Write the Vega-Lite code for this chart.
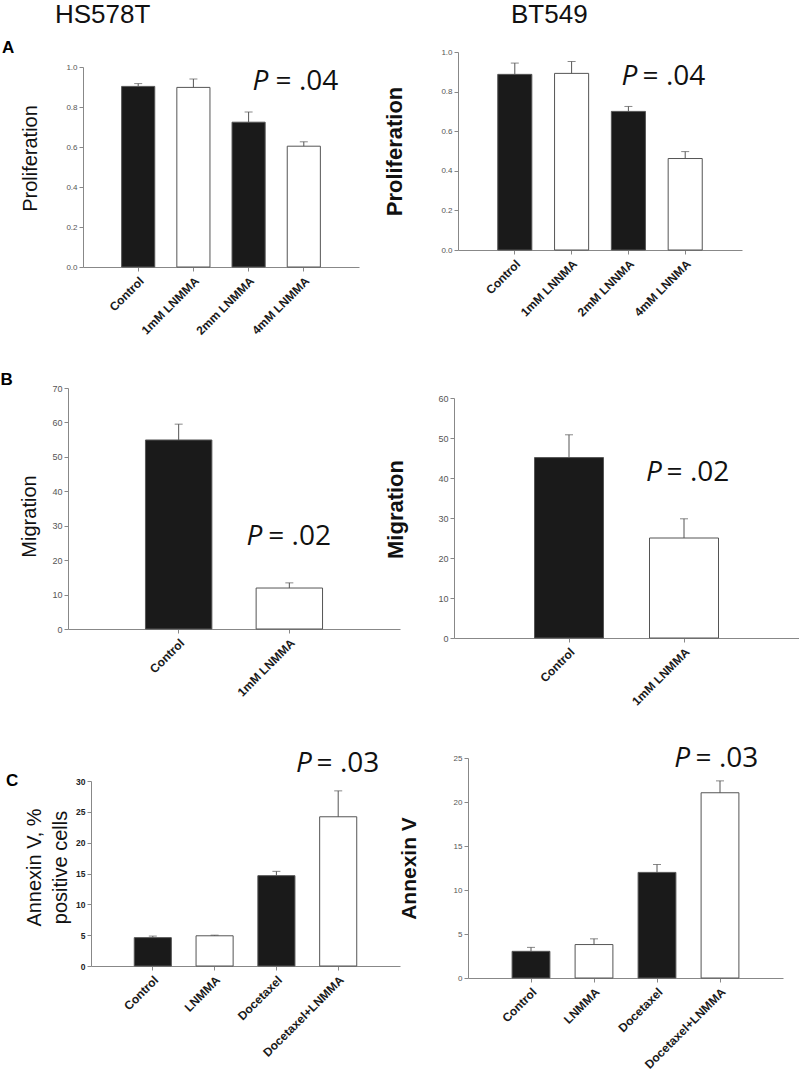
{
  "$schema": "https://vega.github.io/schema/vega-lite/v6.json",
  "width": 799,
  "height": 1081,
  "autosize": {"type": "none"},
  "padding": 0,
  "background": "white",
  "config": {
    "view": {"stroke": null},
    "font": "Liberation Sans",
    "axis": {"grid": false, "domainColor": "#888", "tickColor": "#888", "tickSize": 4, "labelFont": "Liberation Sans", "titleFont": "Liberation Sans", "titleColor": "#111", "domainWidth": 1, "tickWidth": 1},
    "axisX": {"labelAngle": -45, "labelFontWeight": "bold", "labelFontSize": 12, "labelColor": "#1a1a1a", "labelPadding": 4},
    "axisY": {"labelFontSize": 8, "labelColor": "#555", "titleFontSize": 20, "titleFontWeight": "normal", "labelPadding": 2}
  },
  "datasets": {
    "prolifHS": [{"condition": "Control", "mean": 0.903, "upper": 0.917}, {"condition": "1mM LNMMA", "mean": 0.898, "upper": 0.94}, {"condition": "2mm LNMMA", "mean": 0.724, "upper": 0.775}, {"condition": "4mM LNMMA", "mean": 0.604, "upper": 0.626}],
    "prolifBT": [{"condition": "Control", "mean": 0.887, "upper": 0.944}, {"condition": "1mM LNNMA", "mean": 0.892, "upper": 0.952}, {"condition": "2mM LNNMA", "mean": 0.7, "upper": 0.725}, {"condition": "4mM LNNMA", "mean": 0.462, "upper": 0.497}],
    "migHS": [{"condition": "Control", "mean": 54.9, "upper": 59.5}, {"condition": "1mM LNMMA", "mean": 11.9, "upper": 13.4}],
    "migBT": [{"condition": "Control", "mean": 45.1, "upper": 50.8}, {"condition": "1mM LNMMA", "mean": 25.0, "upper": 29.8}],
    "annexHS": [{"condition": "Control", "mean": 4.6, "upper": 4.85}, {"condition": "LNMMA", "mean": 4.9, "upper": 5.0}, {"condition": "Docetaxel", "mean": 14.65, "upper": 15.35}, {"condition": "Docetaxel+LNMMA", "mean": 24.2, "upper": 28.4}],
    "annexBT": [{"condition": "Control", "mean": 3.03, "upper": 3.48}, {"condition": "LNMMA", "mean": 3.8, "upper": 4.45}, {"condition": "Docetaxel", "mean": 12.0, "upper": 12.9}, {"condition": "Docetaxel+LNMMA", "mean": 21.05, "upper": 22.4}]
  },
  "resolve": {"scale": {"x": "independent", "y": "independent"}, "axis": {"x": "independent", "y": "independent"}},
  "layer": [
    {
      "data": {"name": "prolifHS"},
      "encoding": {
        "x": {"field": "condition", "type": "nominal", "sort": null, "scale": {"range": [83, 359], "paddingInner": 0.4, "paddingOuter": 0.7}, "axis": {"title": null, "orient": "bottom", "offset": -814}},
        "y": {"field": "mean", "type": "quantitative", "title": "Proliferation", "scale": {"domain": [0, 1], "range": [267, 67]}, "axis": {"orient": "left", "offset": -83, "values": [0, 0.2, 0.4, 0.6, 0.8, 1], "format": ".1f", "titlePadding": 25, "titleY": 158}}
      },
      "layer": [
        {"mark": {"type": "bar", "stroke": "#555", "strokeWidth": 1}, "encoding": {"fill": {"condition": {"test": "indexof(['Control','2mm LNMMA','2mM LNNMA','Docetaxel'], datum.condition) >= 0", "value": "#1a1a1a"}, "value": "#ffffff"}}},
        {"mark": {"type": "rule", "color": "#555", "strokeWidth": 1}, "encoding": {"y2": {"field": "upper"}}},
        {"mark": {"type": "tick", "color": "#555", "thickness": 1, "size": 8}, "encoding": {"y": {"field": "upper", "type": "quantitative", "title": "Proliferation"}}},
        {"data": {"values": [{"condition": "2mm LNMMA", "label": "P", "level": 0.885}]}, "mark": {"type": "text", "font": "Open Sans", "fontStyle": "italic", "fontSize": 28, "align": "left", "baseline": "alphabetic", "color": "#111", "dx": 4}, "encoding": {"text": {"field": "label"}, "y": {"field": "level", "type": "quantitative", "title": "Proliferation"}}},
        {"data": {"values": [{"condition": "2mm LNMMA", "label": "= .04", "level": 0.885}]}, "mark": {"type": "text", "font": "Open Sans", "fontSize": 28, "align": "left", "baseline": "alphabetic", "color": "#111", "dx": 27}, "encoding": {"text": {"field": "label"}, "y": {"field": "level", "type": "quantitative", "title": "Proliferation"}}},
        {"data": {"values": [{"condition": "Control", "label": "HS578T", "level": 1.218}]}, "mark": {"type": "text", "font": "Liberation Sans", "fontSize": 26, "align": "left", "baseline": "alphabetic", "color": "#111", "dx": -83.2}, "encoding": {"text": {"field": "label"}, "y": {"field": "level", "type": "quantitative", "title": "Proliferation"}}},
        {"data": {"values": [{"condition": "Control", "label": "A", "level": 1.0725}]}, "mark": {"type": "text", "font": "Liberation Sans", "fontSize": 17, "fontWeight": "bold", "align": "left", "baseline": "alphabetic", "color": "#000", "dx": -136.2}, "encoding": {"text": {"field": "label"}, "y": {"field": "level", "type": "quantitative", "title": "Proliferation"}}}
      ]
    },
    {
      "data": {"name": "prolifBT"},
      "encoding": {
        "x": {"field": "condition", "type": "nominal", "sort": null, "scale": {"range": [458, 742], "paddingInner": 0.4, "paddingOuter": 0.7}, "axis": {"title": null, "orient": "bottom", "offset": -831}},
        "y": {"field": "mean", "type": "quantitative", "title": "Proliferation", "scale": {"domain": [0, 1], "range": [250, 52]}, "axis": {"orient": "left", "offset": -458, "values": [0, 0.2, 0.4, 0.6, 0.8, 1], "format": ".1f", "titlePadding": 34, "titleFontWeight": "bold", "titleFontSize": 22}}
      },
      "layer": [
        {"mark": {"type": "bar", "stroke": "#555", "strokeWidth": 1}, "encoding": {"fill": {"condition": {"test": "indexof(['Control','2mm LNMMA','2mM LNNMA','Docetaxel'], datum.condition) >= 0", "value": "#1a1a1a"}, "value": "#ffffff"}}},
        {"mark": {"type": "rule", "color": "#555", "strokeWidth": 1}, "encoding": {"y2": {"field": "upper"}}},
        {"mark": {"type": "tick", "color": "#555", "thickness": 1, "size": 8}, "encoding": {"y": {"field": "upper", "type": "quantitative", "title": "Proliferation"}}},
        {"data": {"values": [{"condition": "2mM LNNMA", "label": "P", "level": 0.833}]}, "mark": {"type": "text", "font": "Open Sans", "fontStyle": "italic", "fontSize": 28, "align": "left", "baseline": "alphabetic", "color": "#111", "dx": -6.9}, "encoding": {"text": {"field": "label"}, "y": {"field": "level", "type": "quantitative", "title": "Proliferation"}}},
        {"data": {"values": [{"condition": "2mM LNNMA", "label": "= .04", "level": 0.833}]}, "mark": {"type": "text", "font": "Open Sans", "fontSize": 28, "align": "left", "baseline": "alphabetic", "color": "#111", "dx": 14.2}, "encoding": {"text": {"field": "label"}, "y": {"field": "level", "type": "quantitative", "title": "Proliferation"}}},
        {"data": {"values": [{"condition": "Control", "label": "BT549", "level": 1.148}]}, "mark": {"type": "text", "font": "Liberation Sans", "fontSize": 26, "align": "left", "baseline": "alphabetic", "color": "#111", "dx": -3.8}, "encoding": {"text": {"field": "label"}, "y": {"field": "level", "type": "quantitative", "title": "Proliferation"}}}
      ]
    },
    {
      "data": {"name": "migHS"},
      "encoding": {
        "x": {"field": "condition", "type": "nominal", "sort": null, "scale": {"range": [68, 400], "paddingInner": 0.4, "paddingOuter": 0.7}, "axis": {"title": null, "orient": "bottom", "offset": -452}},
        "y": {"field": "mean", "type": "quantitative", "title": "Migration", "scale": {"domain": [0, 70], "range": [629, 388]}, "axis": {"orient": "left", "offset": -68, "values": [0, 10, 20, 30, 40, 50, 60, 70], "format": "d", "labelFontSize": 9, "titlePadding": 12, "titleY": 516}}
      },
      "layer": [
        {"mark": {"type": "bar", "stroke": "#555", "strokeWidth": 1}, "encoding": {"fill": {"condition": {"test": "indexof(['Control','2mm LNMMA','2mM LNNMA','Docetaxel'], datum.condition) >= 0", "value": "#1a1a1a"}, "value": "#ffffff"}}},
        {"mark": {"type": "rule", "color": "#555", "strokeWidth": 1}, "encoding": {"y2": {"field": "upper"}}},
        {"mark": {"type": "tick", "color": "#555", "thickness": 1, "size": 8}, "encoding": {"y": {"field": "upper", "type": "quantitative", "title": "Migration"}}},
        {"data": {"values": [{"condition": "1mM LNMMA", "label": "P", "level": 24.4}]}, "mark": {"type": "text", "font": "Open Sans", "fontStyle": "italic", "fontSize": 28, "align": "left", "baseline": "alphabetic", "color": "#111", "dx": -42.8}, "encoding": {"text": {"field": "label"}, "y": {"field": "level", "type": "quantitative", "title": "Migration"}}},
        {"data": {"values": [{"condition": "1mM LNMMA", "label": "= .02", "level": 24.4}]}, "mark": {"type": "text", "font": "Open Sans", "fontSize": 28, "align": "left", "baseline": "alphabetic", "color": "#111", "dx": -21}, "encoding": {"text": {"field": "label"}, "y": {"field": "level", "type": "quantitative", "title": "Migration"}}},
        {"data": {"values": [{"condition": "Control", "label": "B", "level": 70.87}]}, "mark": {"type": "text", "font": "Liberation Sans", "fontSize": 17, "fontWeight": "bold", "align": "left", "baseline": "alphabetic", "color": "#000", "dx": -178.2}, "encoding": {"text": {"field": "label"}, "y": {"field": "level", "type": "quantitative", "title": "Migration"}}}
      ]
    },
    {
      "data": {"name": "migBT"},
      "encoding": {
        "x": {"field": "condition", "type": "nominal", "sort": null, "scale": {"range": [454, 799], "paddingInner": 0.4, "paddingOuter": 0.7}, "axis": {"title": null, "orient": "bottom", "offset": -443}},
        "y": {"field": "mean", "type": "quantitative", "title": "Migration", "scale": {"domain": [0, 60], "range": [638, 398]}, "axis": {"orient": "left", "offset": -454, "values": [0, 10, 20, 30, 40, 50, 60], "format": "d", "labelFontSize": 9, "titlePadding": 30, "titleFontWeight": "bold", "titleFontSize": 22, "titleY": 509}}
      },
      "layer": [
        {"mark": {"type": "bar", "stroke": "#555", "strokeWidth": 1}, "encoding": {"fill": {"condition": {"test": "indexof(['Control','2mm LNMMA','2mM LNNMA','Docetaxel'], datum.condition) >= 0", "value": "#1a1a1a"}, "value": "#ffffff"}}},
        {"mark": {"type": "rule", "color": "#555", "strokeWidth": 1}, "encoding": {"y2": {"field": "upper"}}},
        {"mark": {"type": "tick", "color": "#555", "thickness": 1, "size": 8}, "encoding": {"y": {"field": "upper", "type": "quantitative", "title": "Migration"}}},
        {"data": {"values": [{"condition": "1mM LNMMA", "label": "P", "level": 39.3}]}, "mark": {"type": "text", "font": "Open Sans", "fontStyle": "italic", "fontSize": 28, "align": "left", "baseline": "alphabetic", "color": "#111", "dx": -38.1}, "encoding": {"text": {"field": "label"}, "y": {"field": "level", "type": "quantitative", "title": "Migration"}}},
        {"data": {"values": [{"condition": "1mM LNMMA", "label": "= .02", "level": 39.3}]}, "mark": {"type": "text", "font": "Open Sans", "fontSize": 28, "align": "left", "baseline": "alphabetic", "color": "#111", "dx": -17.4}, "encoding": {"text": {"field": "label"}, "y": {"field": "level", "type": "quantitative", "title": "Migration"}}}
      ]
    },
    {
      "data": {"name": "annexHS"},
      "encoding": {
        "x": {"field": "condition", "type": "nominal", "sort": null, "scale": {"range": [91, 400], "paddingInner": 0.4, "paddingOuter": 0.7}, "axis": {"title": null, "orient": "bottom", "offset": -115}},
        "y": {"field": "mean", "type": "quantitative", "title": ["Annexin V, %", "positive cells"], "scale": {"domain": [0, 30], "range": [966, 781]}, "axis": {"orient": "left", "offset": -91, "values": [0, 5, 10, 15, 20, 25, 30], "format": "d", "labelFontSize": 8.5, "labelFontWeight": "bold", "labelColor": "#222", "titlePadding": 5, "titleLineHeight": 26, "titleY": 867}}
      },
      "layer": [
        {"mark": {"type": "bar", "stroke": "#555", "strokeWidth": 1}, "encoding": {"fill": {"condition": {"test": "indexof(['Control','2mm LNMMA','2mM LNNMA','Docetaxel'], datum.condition) >= 0", "value": "#1a1a1a"}, "value": "#ffffff"}}},
        {"mark": {"type": "rule", "color": "#555", "strokeWidth": 1}, "encoding": {"y2": {"field": "upper"}}},
        {"mark": {"type": "tick", "color": "#555", "thickness": 1, "size": 8}, "encoding": {"y": {"field": "upper", "type": "quantitative", "title": ["Annexin V, %", "positive cells"]}}},
        {"data": {"values": [{"condition": "Docetaxel+LNMMA", "label": "P", "level": 31.5}]}, "mark": {"type": "text", "font": "Open Sans", "fontStyle": "italic", "fontSize": 28, "align": "left", "baseline": "alphabetic", "color": "#111", "dx": -42.3}, "encoding": {"text": {"field": "label"}, "y": {"field": "level", "type": "quantitative", "title": ["Annexin V, %", "positive cells"]}}},
        {"data": {"values": [{"condition": "Docetaxel+LNMMA", "label": "= .03", "level": 31.5}]}, "mark": {"type": "text", "font": "Open Sans", "fontSize": 28, "align": "left", "baseline": "alphabetic", "color": "#111", "dx": -21.6}, "encoding": {"text": {"field": "label"}, "y": {"field": "level", "type": "quantitative", "title": ["Annexin V, %", "positive cells"]}}},
        {"data": {"values": [{"condition": "Control", "label": "C", "level": 29.11}]}, "mark": {"type": "text", "font": "Liberation Sans", "fontSize": 17, "fontWeight": "bold", "align": "left", "baseline": "alphabetic", "color": "#000", "dx": -146.8}, "encoding": {"text": {"field": "label"}, "y": {"field": "level", "type": "quantitative", "title": ["Annexin V, %", "positive cells"]}}}
      ]
    },
    {
      "data": {"name": "annexBT"},
      "encoding": {
        "x": {"field": "condition", "type": "nominal", "sort": null, "scale": {"range": [468, 783], "paddingInner": 0.4, "paddingOuter": 0.7}, "axis": {"title": null, "orient": "bottom", "offset": -103}},
        "y": {"field": "mean", "type": "quantitative", "title": "Annexin V", "scale": {"domain": [0, 25], "range": [978, 758]}, "axis": {"orient": "left", "offset": -468, "values": [0, 5, 10, 15, 20, 25], "format": "d", "titlePadding": 34, "titleFontWeight": "bold", "titleFontSize": 21}}
      },
      "layer": [
        {"mark": {"type": "bar", "stroke": "#555", "strokeWidth": 1}, "encoding": {"fill": {"condition": {"test": "indexof(['Control','2mm LNMMA','2mM LNNMA','Docetaxel'], datum.condition) >= 0", "value": "#1a1a1a"}, "value": "#ffffff"}}},
        {"mark": {"type": "rule", "color": "#555", "strokeWidth": 1}, "encoding": {"y2": {"field": "upper"}}},
        {"mark": {"type": "tick", "color": "#555", "thickness": 1, "size": 8}, "encoding": {"y": {"field": "upper", "type": "quantitative", "title": "Annexin V"}}},
        {"data": {"values": [{"condition": "Docetaxel+LNMMA", "label": "P", "level": 24.0}]}, "mark": {"type": "text", "font": "Open Sans", "fontStyle": "italic", "fontSize": 28, "align": "left", "baseline": "alphabetic", "color": "#111", "dx": -45.8}, "encoding": {"text": {"field": "label"}, "y": {"field": "level", "type": "quantitative", "title": "Annexin V"}}},
        {"data": {"values": [{"condition": "Docetaxel+LNMMA", "label": "= .03", "level": 24.0}]}, "mark": {"type": "text", "font": "Open Sans", "fontSize": 28, "align": "left", "baseline": "alphabetic", "color": "#111", "dx": -24.4}, "encoding": {"text": {"field": "label"}, "y": {"field": "level", "type": "quantitative", "title": "Annexin V"}}}
      ]
    }
  ]
}
